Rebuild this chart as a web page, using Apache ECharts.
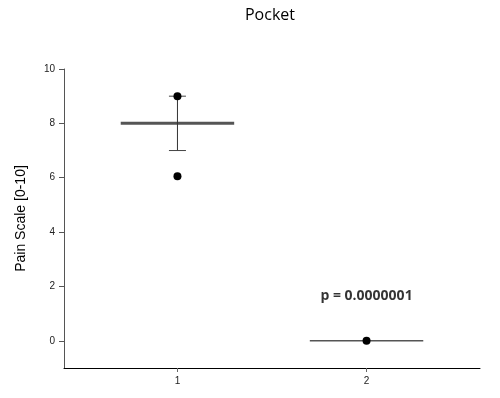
<!DOCTYPE html>
<html>
<head>
<meta charset="utf-8">
<script src="https://cdn.jsdelivr.net/npm/echarts@6/dist/echarts.min.js"></script>
<style>
  html, body { margin: 0; padding: 0; background: #fff; }
  #main { width: 500px; height: 398px; }
</style>
</head>
<body>
<div id="main"></div>
<script>
// data
var groups = [1, 2];
var means = [8, 0];
var errLow = [7, null];
var errHigh = [9, null];
var points = [[1, 9], [1, 6.05], [2, 0]];
var pText = 'p = 0.0000001';
var pPos = [2, 1.65];
var yTicks = [0, 2, 4, 6, 8, 10];

var halfWidth = 0.3;
var capWidth = 0.045;

var myChart = echarts.init(document.getElementById('main'));

var series = [];
groups.forEach(function (g, i) {
    // mean bar
    series.push({
        type: 'line',
        data: [[g - halfWidth, means[i]], [g + halfWidth, means[i]]],
        symbol: 'none',
        lineStyle: { color: '#555', width: i === 0 ? 3 : 1.5 },
        z: 2
    });
    if (errLow[i] != null) {
        series.push({
            type: 'line',
            data: [[g, errLow[i]], [g, errHigh[i]]],
            symbol: 'none',
            lineStyle: { color: '#333', width: 1 },
            z: 2
        });
        [errLow[i], errHigh[i]].forEach(function (v) {
            series.push({
                type: 'line',
                data: [[g - capWidth, v], [g + capWidth, v]],
                symbol: 'none',
                lineStyle: { color: '#444', width: 1 },
                z: 2
            });
        });
    }
});

series.push({
    type: 'scatter',
    data: points,
    symbolSize: 8,
    itemStyle: { color: '#000', opacity: 1 },
    z: 5
});

series.push({
    type: 'scatter',
    data: [pPos],
    symbolSize: 0,
    silent: true,
    label: {
        show: true,
        position: 'inside',
        formatter: pText,
        color: '#000',
        fontFamily: 'Open Sans',
        fontWeight: 'bold',
        fontSize: 14
    }
});

var option = {
    animation: false,
    title: {
        text: 'Pocket',
        left: 265,
        textAlign: 'center',
        top: 2,
        textStyle: { fontFamily: 'Open Sans', fontWeight: 'normal', fontSize: 16, color: '#000' }
    },
    grid: { left: 64, right: 20, top: 69, bottom: 30 },
    xAxis: {
        type: 'value',
        min: 0.4,
        max: 2.6,
        splitLine: { show: false },
        axisLine: { onZero: false, lineStyle: { color: '#000', width: 1 } },
        axisTick: { customValues: groups, length: 4, lineStyle: { color: '#666' } },
        axisLabel: {
            customValues: groups,
            color: '#222',
            fontFamily: 'Liberation Sans',
            fontSize: 10,
            margin: 8
        }
    },
    yAxis: {
        type: 'value',
        min: -1,
        max: 10,
        name: 'Pain Scale [0-10]',
        nameLocation: 'middle',
        nameGap: 36,
        nameTextStyle: { fontFamily: 'Liberation Sans', fontSize: 14, color: '#000' },
        splitLine: { show: false },
        axisLine: { show: true, onZero: false, lineStyle: { color: '#555', width: 1 } },
        axisTick: { show: true, customValues: yTicks, length: 5, lineStyle: { color: '#555' } },
        axisLabel: {
            customValues: yTicks,
            color: '#222',
            fontFamily: 'Liberation Sans',
            fontSize: 10,
            margin: 9
        }
    },
    series: series
};

myChart.setOption(option);
</script>
</body>
</html>
